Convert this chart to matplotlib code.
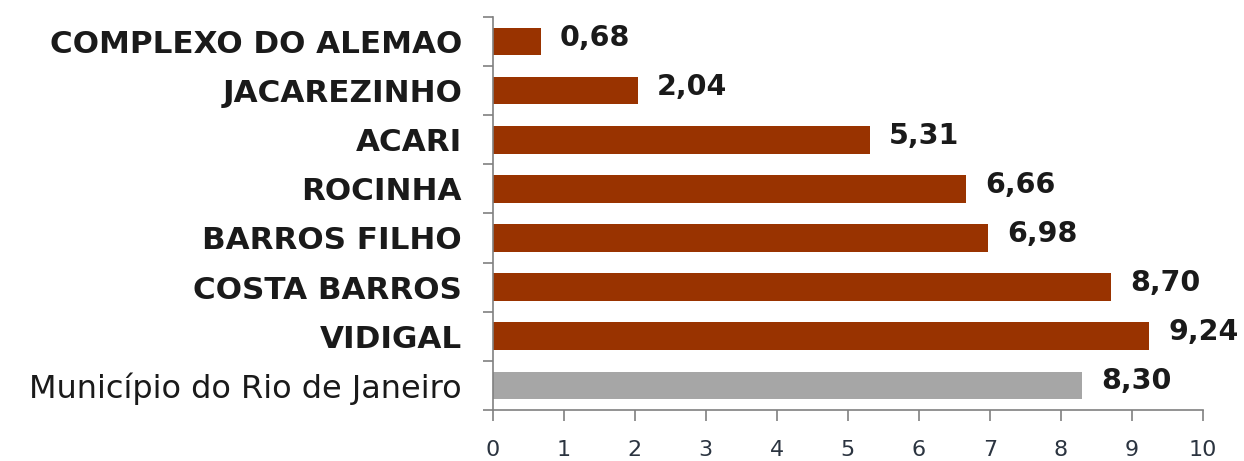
import matplotlib
matplotlib.use("Agg")
import matplotlib.pyplot as plt
from matplotlib.ticker import MultipleLocator, FixedLocator

categories = ["COMPLEXO DO ALEMAO", "JACAREZINHO", "ACARI", "ROCINHA",
              "BARROS FILHO", "COSTA BARROS", "VIDIGAL",
              "Município do Rio de Janeiro"]
values = [0.68, 2.04, 5.31, 6.66, 6.98, 8.70, 9.24, 8.30]
value_labels = ["0,68", "2,04", "5,31", "6,66", "6,98", "8,70", "9,24", "8,30"]
bar_colors = ["#993300"] * 7 + ["#A6A6A6"]

fig = plt.figure(figsize=(12.44, 4.61), dpi=100)
ax = fig.add_axes([0.396, 0.111, 0.571, 0.852])

n = len(categories)
ypos = list(range(n))
ax.barh(ypos, values, height=0.56, color=bar_colors)
ax.set_ylim(n - 0.5, -0.5)
ax.set_xlim(0, 10)

for y, v, lab in zip(ypos, values, value_labels):
    ax.text(v + 0.27, y - 0.08, lab, va="center", ha="left",
            fontsize=20.5, fontweight="bold", color="#1a1a1a",
            family="DejaVu Sans")

# category labels
ax.set_yticks(ypos)
ax.set_yticklabels(categories)
for i, t in enumerate(ax.get_yticklabels()):
    t.set_color("#1a1a1a")
    if i < n - 1:
        t.set_fontsize(22.3)
        t.set_fontweight("bold")
    else:
        t.set_fontsize(23)
        t.set_fontweight("normal")
ax.tick_params(axis="y", which="major", length=0, pad=22)
ax.yaxis.set_minor_locator(FixedLocator([i - 0.5 for i in range(n + 1)]))
ax.tick_params(axis="y", which="minor", length=7, color="#808080", width=1.2)

ax.xaxis.set_major_locator(MultipleLocator(1))
ax.tick_params(axis="x", length=8, color="#808080", width=1.2,
               labelsize=16, labelcolor="#2b3440", pad=14)

for side in ["top", "right"]:
    ax.spines[side].set_visible(False)
for side in ["left", "bottom"]:
    ax.spines[side].set_color("#808080")
    ax.spines[side].set_linewidth(1.2)

fig.savefig("out.png", dpi=100)
